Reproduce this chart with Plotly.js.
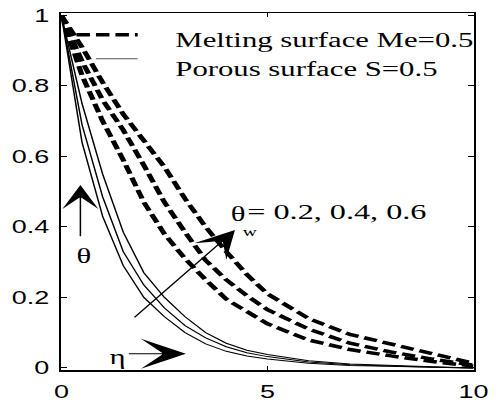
<!DOCTYPE html>
<html>
<head>
<meta charset="utf-8">
<script src="https://cdn.plot.ly/plotly-3.0.1.min.js"></script>
<style>
html,body{margin:0;padding:0;background:#fff;overflow:hidden;}
#plot{width:331px;height:409px;transform:scaleX(1.4985);transform-origin:0 0;}
</style>
</head>
<body>
<div id="plot"></div>
<script>
// eta grid
const eta = [0, 0.5, 1, 1.5, 2, 2.5, 3, 3.5, 4, 4.5, 5, 6, 7, 8, 9, 10];
// Porous surface S=0.5 (solid), theta_w = 0.2, 0.4, 0.6
const porous02 = [1, 0.64, 0.43, 0.29, 0.20, 0.145, 0.10, 0.068, 0.047, 0.034, 0.025, 0.013, 0.007, 0.004, 0.002, 0.0];
const porous04 = [1, 0.69, 0.485, 0.33, 0.235, 0.17, 0.12, 0.085, 0.06, 0.043, 0.032, 0.017, 0.009, 0.005, 0.002, 0.0];
const porous06 = [1, 0.75, 0.55, 0.385, 0.27, 0.20, 0.145, 0.10, 0.07, 0.05, 0.038, 0.02, 0.011, 0.006, 0.003, 0.0];
// Melting surface Me=0.5 (dashed), theta_w = 0.2, 0.4, 0.6
const melting02 = [1, 0.83, 0.70, 0.59, 0.47, 0.38, 0.31, 0.25, 0.195, 0.16, 0.125, 0.079, 0.052, 0.034, 0.018, 0.005];
const melting04 = [1, 0.87, 0.76, 0.675, 0.575, 0.47, 0.385, 0.305, 0.25, 0.205, 0.165, 0.11, 0.07, 0.045, 0.025, 0.008];
const melting06 = [1, 0.91, 0.81, 0.72, 0.645, 0.57, 0.48, 0.40, 0.33, 0.265, 0.21, 0.14, 0.095, 0.067, 0.04, 0.013];

const xTicks = [0, 5, 10];
const xTickText = ['0', '5', '10'];
const yTicks = [0, 0.2, 0.4, 0.6, 0.8, 1];
const yTickText = ['0', '0.2', '0.4', '0.6', '0.8', '1'];

const legendMelting = 'Melting surface Me=0.5';
const legendPorous = 'Porous surface S=0.5';
const thetaW = '= 0.2, 0.4, 0.6';

const dashStyle = {color: '#000', width: 3.5, dash: '9px,4px'};
const solidStyle = {color: '#000', width: 1};

const traces = [];
[melting02, melting04, melting06].forEach(v => traces.push({x: eta, y: v, mode: 'lines', line: dashStyle, showlegend: false, hoverinfo: 'skip'}));
[porous02, porous04, porous06].forEach(v => traces.push({x: eta, y: v, mode: 'lines', line: solidStyle, showlegend: false, hoverinfo: 'skip'}));
// legend sample lines
traces.push({x: [0.365, 1.85], y: [0.945, 0.945], mode: 'lines', line: dashStyle, showlegend: false, hoverinfo: 'skip'});
traces.push({x: [0.84, 1.85], y: [0.877, 0.877], mode: 'lines', line: {color: '#555', width: 1}, showlegend: false, hoverinfo: 'skip'});

const serif = 'Liberation Serif, Times New Roman, serif';
const txt = (x, y, text, size, xanchor) => ({x, y, xref: 'x', yref: 'y', text, showarrow: false, xanchor: xanchor || 'left', yanchor: 'middle', font: {family: serif, size: size || 20.5, color: '#000'}});
const arrow = (x, y, ax, ay, size) => ({x, y, ax, ay, xref: 'x', yref: 'y', axref: 'x', ayref: 'y', text: '', showarrow: true, arrowhead: 3, arrowsize: size || 3, arrowwidth: 1, arrowcolor: '#000', standoff: 0, startstandoff: 0});

const annotations = [
  txt(2.70, 0.93, legendMelting),
  txt(2.70, 0.848, legendPorous),
  txt(4.04, 0.437, 'θ'),
  txt(4.32, 0.388, 'w', 13),
  txt(4.43, 0.441, thetaW, 21.5),
  txt(0.535, 0.318, 'θ', 20.5, 'center'),
  txt(1.36, 0.03, 'η', 20.5, 'center'),
  arrow(0.46, 0.519, 0.46, 0.369, 4),
  arrow(3.02, 0.040, 1.58, 0.040, 5),
  arrow(4.21, 0.391, 1.73, 0.139, 4.5)
];

const axisCommon = {showline: true, linecolor: '#000', linewidth: 1.5, mirror: 'ticks', ticks: 'inside', ticklen: 4, tickwidth: 1, tickcolor: '#000', showgrid: false, zeroline: false, tickfont: {family: 'Liberation Sans, Arial, sans-serif', size: 18, color: '#000'}};

const layout = {
  width: 331, height: 409,
  margin: {l: 41, r: 15, t: 13, b: 39, pad: 0},
  paper_bgcolor: '#fff', plot_bgcolor: '#fff',
  showlegend: false,
  xaxis: Object.assign({}, axisCommon, {range: [0, 10], tickvals: xTicks, ticktext: xTickText, ticklabelstandoff: 5}),
  yaxis: Object.assign({}, axisCommon, {range: [-0.006, 1.007], tickvals: yTicks, ticktext: yTickText, ticklabelstandoff: 3}),
  annotations
};

Plotly.newPlot('plot', traces, layout, {displayModeBar: false, staticPlot: true});
</script>
</body>
</html>
